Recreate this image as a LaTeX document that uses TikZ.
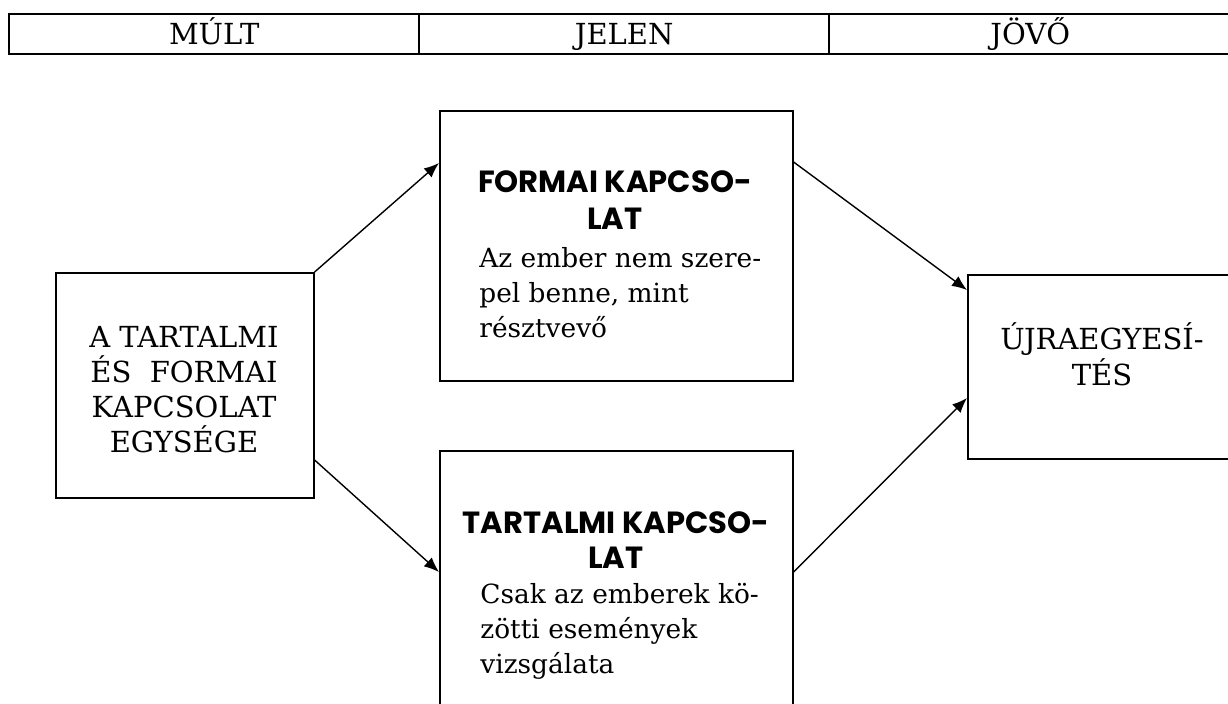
\documentclass[tikz,border=0pt]{standalone}
\usepackage{fontspec}
\setmainfont{DejaVu Serif}
\newfontfamily\headfont{Poppins}
\usetikzlibrary{arrows.meta}
\begin{document}
\begin{tikzpicture}[x=0.5pt,y=-0.5pt,
  box/.style={draw, line width=0.8pt, inner sep=0pt, anchor=north west},
  cell/.style={draw, line width=1.2pt, inner sep=0pt, anchor=north west,
    minimum height=20pt, text height=10pt, text depth=0pt, font=\fontsize{14.5}{16}\selectfont},
  caps/.style={anchor=base, align=center, inner sep=0pt, font=\fontsize{14.5}{17.5}\selectfont},
  head/.style={anchor=base, align=center, inner sep=0pt},
  body/.style={anchor=base west, align=left, inner sep=0pt, font=\fontsize{13.2}{17.5}\selectfont},
  arr/.style={line width=0.7pt, -{Latex[length=7.5pt,width=6pt]}}]
\useasboundingbox (0,0) rectangle (1228,703);
\clip (0,0) rectangle (1228,703);
% table
\node[cell, minimum width=205pt] (c1) at (8,13) {MÚLT};
\node[cell, minimum width=205pt] (c2) at (418,13) {JELEN};
\node[cell, minimum width=201pt] (c3) at (828,13) {JÖVŐ};
% boxes
\node[box, minimum width=129pt, minimum height=112.5pt] (L) at (55,272) {};
\node[box, minimum width=176.5pt, minimum height=135pt] (T) at (439,110) {};
\node[box, minimum width=176.5pt, minimum height=140pt] (B) at (439,450) {};
\node[box, minimum width=140pt, minimum height=92pt] (R) at (967,274) {};
% texts (base = baseline of the last line)
\node[caps] (Lt) at (184,452) {A TARTALMI\\ÉS\ \ FORMAI\\KAPCSOLAT\\EGYSÉGE};
\node[head, font=\headfont\bfseries\fontsize{15.3}{18.5}\selectfont] (Th) at (615,229) {FORMAI KAPCSO-\\LAT};
\node[body] (Tb) at (479,337) {Az ember nem szere-\\pel benne, mint\\résztvevő};
\node[head, font=\headfont\bfseries\fontsize{15.3}{17.5}\selectfont] (Bh) at (616,568) {TARTALMI KAPCSO-\\LAT};
\node[body] (Bb) at (480,673) {Csak az emberek kö-\\zötti események\\vizsgálata};
\node[caps, font=\fontsize{14.5}{18}\selectfont] (Rt) at (1102,385) {ÚJRAEGYESÍ-\\TÉS};
% arrows
\draw[arr] (L.north east) -- (T.west |- 0,163);
\draw[arr] (L.east |- 0,460) -- (B.west |- 0,572);
\draw[arr] (T.east |- 0,162) -- (R.west |- 0,290);
\draw[arr] (B.east |- 0,572) -- (R.west |- 0,398);
\end{tikzpicture}
\end{document}
